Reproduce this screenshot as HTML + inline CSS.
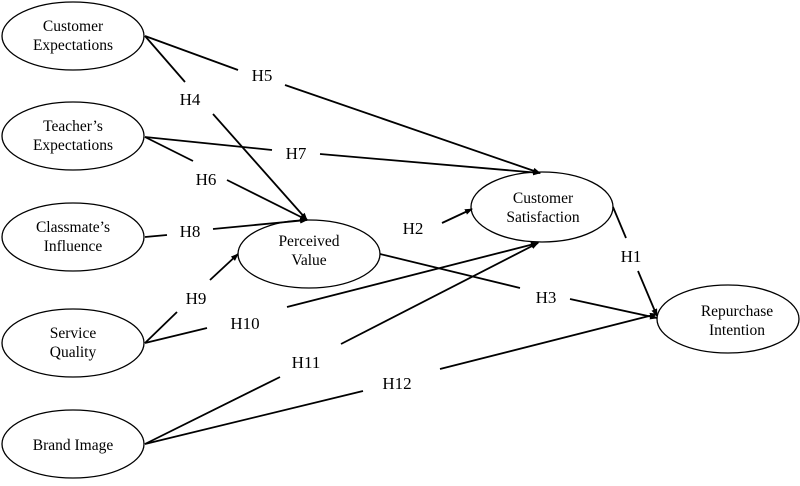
<!DOCTYPE html>
<html><head><meta charset="utf-8"><style>body{margin:0;background:#fff}</style></head><body>
<svg width="800" height="481" xmlns="http://www.w3.org/2000/svg" font-family="Liberation Serif, serif" font-size="17">
<defs><marker id="a" markerWidth="8" markerHeight="8" refX="7" refY="4" orient="auto" markerUnits="userSpaceOnUse"><path d="M0,1 L8,4 L0,7z" fill="#000"/></marker></defs>
<g fill="#fff" stroke="#000" stroke-width="1.3">
<ellipse cx="73" cy="36" rx="71" ry="34"/>
<ellipse cx="73" cy="136" rx="71" ry="34"/>
<ellipse cx="73" cy="237" rx="71" ry="34"/>
<ellipse cx="73" cy="343" rx="71" ry="34"/>
<ellipse cx="73" cy="444" rx="71" ry="34"/>
<ellipse cx="309" cy="254" rx="71" ry="34"/>
<ellipse cx="542" cy="207" rx="71" ry="35"/>
<ellipse cx="728" cy="319" rx="71" ry="34"/>
</g>
<g stroke="#000" stroke-width="1.8" fill="none">
<line x1="145" y1="36" x2="185" y2="82"/><line x1="213" y1="114" x2="307" y2="220" marker-end="url(#a)"/>
<line x1="145" y1="36" x2="238" y2="70"/><line x1="285" y1="85" x2="540" y2="173" marker-end="url(#a)"/>
<line x1="145" y1="137" x2="272" y2="150"/><line x1="320" y1="154" x2="540" y2="173" marker-end="url(#a)"/>
<line x1="145" y1="137" x2="193" y2="161"/><line x1="227" y1="180" x2="307" y2="220" marker-end="url(#a)"/>
<line x1="145" y1="237" x2="167" y2="235"/><line x1="213" y1="229" x2="307" y2="220" marker-end="url(#a)"/>
<line x1="145" y1="343" x2="177" y2="312"/><line x1="210" y1="280" x2="238" y2="254" marker-end="url(#a)"/>
<line x1="145" y1="343" x2="207" y2="328"/><line x1="287" y1="307" x2="538" y2="243" marker-end="url(#a)"/>
<line x1="145" y1="444" x2="280" y2="377"/><line x1="341" y1="344" x2="538" y2="243" marker-end="url(#a)"/>
<line x1="145" y1="444" x2="363" y2="391"/><line x1="440" y1="369" x2="657" y2="314" marker-end="url(#a)"/>
<line x1="442" y1="223" x2="472" y2="209" marker-end="url(#a)"/>
<line x1="380" y1="254" x2="520" y2="288"/><line x1="570" y1="299" x2="657" y2="318" marker-end="url(#a)"/>
<line x1="613" y1="207" x2="626" y2="238"/><line x1="638" y1="271" x2="657" y2="316" marker-end="url(#a)"/>
</g>
<g text-anchor="middle" font-size="15.5">
<text x="73" y="31">Customer</text><text x="73" y="50">Expectations</text>
<text x="73" y="131">Teacher’s</text><text x="73" y="150">Expectations</text>
<text x="73" y="232">Classmate’s</text><text x="73" y="251">Influence</text>
<text x="73" y="338">Service</text><text x="73" y="357">Quality</text>
<text x="73" y="450">Brand Image</text>
<text x="309" y="246">Perceived</text><text x="309" y="265">Value</text>
<text x="543" y="203">Customer</text><text x="543" y="222">Satisfaction</text>
<text x="737" y="316">Repurchase</text><text x="737" y="335">Intention</text>
</g>
<g text-anchor="middle">
<text x="190" y="105">H4</text><text x="262" y="81">H5</text>
<text x="206" y="185">H6</text><text x="296" y="159">H7</text>
<text x="190" y="237">H8</text><text x="196" y="304">H9</text>
<text x="245" y="329">H10</text><text x="306" y="368">H11</text>
<text x="397" y="389">H12</text><text x="413" y="234">H2</text>
<text x="546" y="303">H3</text><text x="631" y="262">H1</text>
</g>
</svg>
</body></html>
